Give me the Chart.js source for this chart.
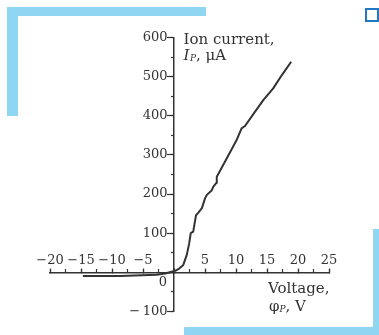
<!DOCTYPE html>
<html>
<head>
<meta charset="utf-8">
<script src="https://cdn.jsdelivr.net/npm/chart.js@4"></script>
<style>
  html, body { margin: 0; padding: 0; background: #fff; }
  #wrap { position: relative; width: 379px; height: 335px; overflow: hidden; }
  #wrap canvas { position: absolute; left: 0; top: 0; }
  .bar { position: absolute; background: #8fd6f2; }
  .sq { position: absolute; left: 365px; top: 8px; width: 14px; height: 14px;
        border: 2.5px solid #1f78c1; box-sizing: border-box; }
</style>
</head>
<body>
<div id="wrap">
  <div class="bar" style="left:7px;top:7px;width:199px;height:9px"></div>
  <div class="bar" style="left:7px;top:7px;width:11px;height:109px"></div>
  <div class="bar" style="left:184px;top:327px;width:195px;height:8px"></div>
  <div class="bar" style="left:373px;top:229px;width:6px;height:106px"></div>
  <div class="sq"></div>
  <canvas id="chart" width="379" height="335"></canvas>
</div>
<script>
// Probe characteristic: ion current versus probe voltage
const voltage = [-14.7, -8.7, -2.8, -1.4, 0.2, 0.7, 1.5, 2.05, 2.45, 2.7, 3.1, 3.55, 3.9, 4.5, 5.0, 5.3, 6.1, 6.35, 6.8, 6.9, 8.5, 10.1, 10.9, 11.45, 13.05, 14.4, 16.0, 17.4, 18.9];
const current = [-9.5, -9.5, -6, -3, 4, 8, 19, 44, 74, 100, 104, 146, 152, 164, 189, 198, 210, 219, 228, 244, 291, 338, 368, 374, 410, 440, 470, 504, 538];

const voltageTicks = [-20, -15, -10, -5, 5, 10, 15, 20, 25];
const voltageTickLabels = ['\u221220', '\u221215', '\u221210', '\u22125', '5', '10', '15', '20', '25'];
const currentTicks = [-100, 100, 200, 300, 400, 500, 600];
const currentTickLabels = ['\u2212\u2009100', '100', '200', '300', '400', '500', '600'];

const ink = '#333333';
const tickFont = { family: 'DejaVu Serif', size: 13 };

function labelFor(values, labels, tail) {
  return (v) => {
    const i = values.findIndex((t) => Math.abs(t - v) < 1e-9);
    return i < 0 ? '' : labels[i] + (tail || '');
  };
}

const noSpaceX = (s) => { s.height = 0; };
const noSpaceY = (s) => { s.width = 0; };

// Axis titles and the origin mark, placed from the scales
const axisText = {
  id: 'axisText',
  afterDraw(chart) {
    const { ctx } = chart;
    const xs = chart.scales.x, ys = chart.scales.y;
    const x0 = xs.getPixelForValue(0);
    const y0 = ys.getPixelForValue(0);
    const yTop = ys.getPixelForValue(600);
    ctx.save();
    ctx.fillStyle = ink;
    ctx.textBaseline = 'alphabetic';
    ctx.textAlign = 'left';

    // vertical axis title
    let tx = x0 + 9.5;
    ctx.font = '15px "DejaVu Serif"';
    ctx.fillText('Ion current,', tx, yTop + 6.5);
    let ty = yTop + 22;
    ctx.font = 'italic 15px "DejaVu Serif"';
    ctx.fillText('I', tx, ty);
    tx += ctx.measureText('I').width + 0.5;
    ctx.font = 'italic 9px "DejaVu Serif"';
    ctx.fillText('P', tx, ty + 1);
    tx += ctx.measureText('P').width;
    ctx.font = '15px "DejaVu Serif"';
    ctx.fillText(', \u03bcA', tx, ty);

    // horizontal axis title
    tx = x0 + 94;
    ctx.fillText('Voltage,', tx, y0 + 20.5);
    ty = y0 + 39;
    ctx.fillText('\u03c6', tx + 1, ty);
    let px = tx + 1 + ctx.measureText('\u03c6').width;
    ctx.font = 'italic 9px "DejaVu Serif"';
    ctx.fillText('P', px, ty + 1);
    px += ctx.measureText('P').width;
    ctx.font = '15px "DejaVu Serif"';
    ctx.fillText(', V', px, ty);

    // origin
    ctx.font = '13px "DejaVu Serif"';
    ctx.textAlign = 'center';
    ctx.textBaseline = 'middle';
    ctx.fillText('0', x0 - 11, y0 + 10);
    ctx.restore();
  }
};

new Chart(document.getElementById('chart'), {
  type: 'scatter',
  data: {
    datasets: [{
      data: voltage.map((v, i) => ({ x: v, y: current[i] })),
      showLine: true,
      borderColor: ink,
      borderWidth: 2,
      borderJoinStyle: 'round',
      pointRadius: 0,
      tension: 0,
      xAxisID: 'x',
      yAxisID: 'y'
    }]
  },
  options: {
    responsive: false,
    animation: false,
    devicePixelRatio: 1,
    layout: { padding: { left: 50, right: 50, top: 37.5, bottom: 23.5 } },
    plugins: { legend: { display: false }, tooltip: { enabled: false } },
    scales: {
      x: {
        type: 'linear', axis: 'x', min: -20, max: 25,
        position: { y: 0 },
        afterFit: noSpaceX,
        border: { display: true, color: ink, width: 1.5 },
        grid: { drawOnChartArea: false, drawTicks: true, tickLength: -5, tickWidth: 1.2, color: ink },
        ticks: {
          stepSize: 5, autoSkip: false, maxRotation: 0, padding: -15,
          font: tickFont, color: ink,
          callback: labelFor(voltageTicks, voltageTickLabels)
        }
      },
      xMinor: {
        type: 'linear', axis: 'x', min: -20, max: 25,
        position: { y: 0 },
        afterFit: noSpaceX,
        border: { display: false },
        grid: { drawOnChartArea: false, drawTicks: true, tickLength: -3, tickWidth: 1.2, color: ink },
        ticks: { stepSize: 2.5, autoSkip: false, maxRotation: 0, callback: () => '' }
      },
      y: {
        type: 'linear', axis: 'y', min: -100, max: 600,
        position: { x: 0 },
        afterFit: noSpaceY,
        border: { display: true, color: ink, width: 1.5 },
        grid: { drawOnChartArea: false, drawTicks: true, tickLength: 6, tickWidth: 1.2, color: ink },
        ticks: {
          stepSize: 100, autoSkip: false, padding: 1,
          font: tickFont, color: ink,
          // en space keeps the right-aligned labels clear of the tick marks
          callback: labelFor(currentTicks, currentTickLabels, '\u2002')
        }
      },
      yMinor: {
        type: 'linear', axis: 'y', min: -100, max: 600,
        position: { x: 0 },
        afterFit: noSpaceY,
        border: { display: false },
        grid: { drawOnChartArea: false, drawTicks: true, tickLength: 3, tickWidth: 1.2, color: ink },
        ticks: { stepSize: 50, autoSkip: false, callback: () => '' }
      }
    }
  },
  plugins: [axisText]
});
</script>
</body>
</html>
